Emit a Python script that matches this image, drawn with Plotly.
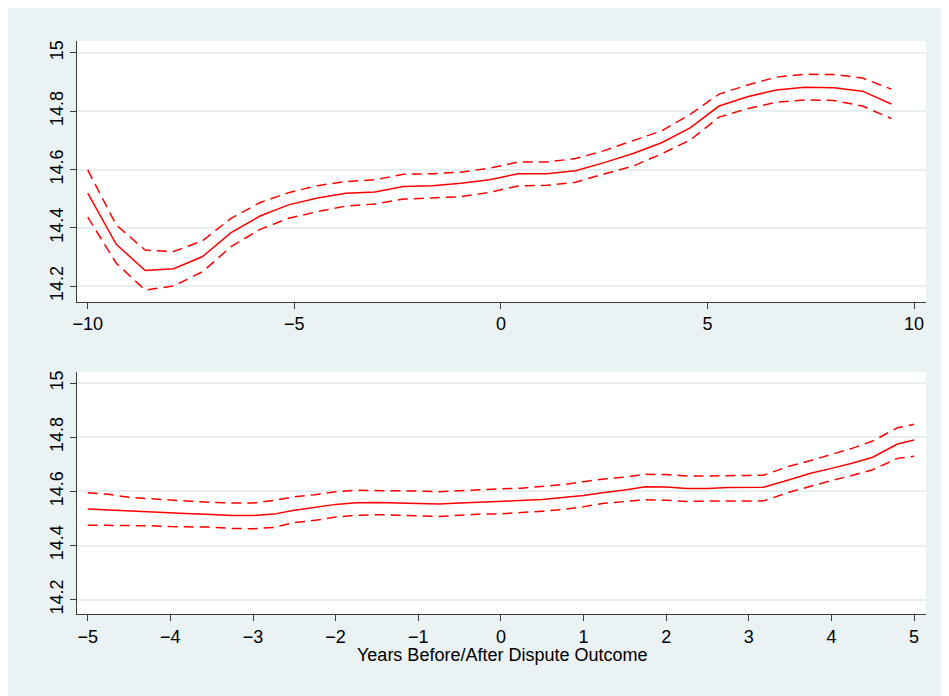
import plotly.graph_objects as go
from plotly.subplots import make_subplots

# ---- Top panel data (years -10 .. 10) ----
top_x = [-10.0, -9.31, -8.61, -7.92, -7.22, -6.53, -5.83, -5.14, -4.44, -3.75,
         -3.05, -2.36, -1.66, -0.97, -0.28, 0.42, 1.11, 1.81, 2.50, 3.20,
         3.89, 4.59, 5.28, 5.97, 6.67, 7.36, 8.06, 8.75, 9.45]
top_fit = [14.519, 14.344, 14.254, 14.260, 14.302, 14.384, 14.441, 14.479, 14.503, 14.519,
           14.523, 14.542, 14.545, 14.553, 14.565, 14.586, 14.586, 14.596, 14.624, 14.655,
           14.692, 14.744, 14.818, 14.850, 14.873, 14.882, 14.881, 14.869, 14.825]
top_hi = [14.599, 14.410, 14.324, 14.319, 14.356, 14.433, 14.487, 14.521, 14.545, 14.559,
          14.565, 14.584, 14.586, 14.591, 14.605, 14.626, 14.626, 14.638, 14.665, 14.698,
          14.733, 14.790, 14.859, 14.890, 14.917, 14.927, 14.926, 14.914, 14.876]
top_lo = [14.437, 14.279, 14.187, 14.201, 14.250, 14.336, 14.395, 14.433, 14.456, 14.475,
          14.482, 14.499, 14.503, 14.507, 14.522, 14.544, 14.546, 14.557, 14.585, 14.612,
          14.654, 14.702, 14.780, 14.809, 14.831, 14.839, 14.837, 14.818, 14.775]

# ---- Bottom panel data (years -5 .. 5) ----
bot_x = [-5.0, -4.75, -4.5, -4.25, -4.0, -3.75, -3.5, -3.25, -3.0, -2.75,
         -2.5, -2.25, -2.0, -1.75, -1.5, -1.25, -1.0, -0.75, -0.5, -0.25,
         0.0, 0.25, 0.5, 0.75, 1.0, 1.25, 1.5, 1.75, 2.0, 2.25,
         2.5, 2.75, 3.0, 3.18, 3.5, 3.75, 4.0, 4.25, 4.5, 4.8, 5.0]
bot_fit = [14.535, 14.531, 14.527, 14.523, 14.520, 14.517, 14.515, 14.511, 14.511, 14.516,
           14.530, 14.540, 14.552, 14.558, 14.559, 14.557, 14.556, 14.553, 14.557, 14.560,
           14.563, 14.565, 14.570, 14.577, 14.585, 14.596, 14.605, 14.617, 14.616, 14.611,
           14.611, 14.614, 14.615, 14.615, 14.644, 14.667, 14.685, 14.704, 14.726, 14.775, 14.790]
bot_hi = [14.595, 14.589, 14.578, 14.572, 14.568, 14.564, 14.559, 14.557, 14.557, 14.567,
          14.580, 14.588, 14.599, 14.604, 14.604, 14.602, 14.601, 14.599, 14.602, 14.607,
          14.610, 14.612, 14.619, 14.625, 14.636, 14.646, 14.653, 14.663, 14.662, 14.657,
          14.657, 14.657, 14.659, 14.660, 14.694, 14.714, 14.736, 14.759, 14.786, 14.835, 14.848]
bot_lo = [14.475, 14.475, 14.474, 14.473, 14.470, 14.469, 14.468, 14.463, 14.462, 14.467,
          14.485, 14.493, 14.505, 14.512, 14.514, 14.512, 14.510, 14.507, 14.512, 14.516,
          14.517, 14.521, 14.527, 14.533, 14.543, 14.556, 14.563, 14.569, 14.567, 14.563,
          14.564, 14.565, 14.565, 14.565, 14.598, 14.620, 14.640, 14.659, 14.680, 14.722, 14.730]

y_ticks = [14.2, 14.4, 14.6, 14.8, 15.0]
y_labels = ["14.2", "14.4", "14.6", "14.8", "15"]
top_xticks = [-10, -5, 0, 5, 10]
bot_xticks = [-5, -4, -3, -2, -1, 0, 1, 2, 3, 4, 5]
x_title = "Years Before/After Dispute Outcome"

BG = "#EAF2F3"
RED = "#FF0000"
AX = "#3c3c3c"
GRID = "#E6EEF0"
FONT = "Liberation Sans, Arial, sans-serif"
FS = 18

fig = make_subplots(rows=2, cols=1, shared_xaxes=False, vertical_spacing=0.05)

for row, xs, fit, hi, lo in [(1, top_x, top_fit, top_hi, top_lo),
                             (2, bot_x, bot_fit, bot_hi, bot_lo)]:
    fig.add_trace(go.Scatter(x=xs, y=hi, mode="lines",
                             line=dict(color=RED, width=1.5, dash="10px,6px"),
                             showlegend=False, hoverinfo="skip"), row=row, col=1)
    fig.add_trace(go.Scatter(x=xs, y=fit, mode="lines",
                             line=dict(color=RED, width=1.5),
                             showlegend=False), row=row, col=1)
    fig.add_trace(go.Scatter(x=xs, y=lo, mode="lines",
                             line=dict(color=RED, width=1.5, dash="10px,6px"),
                             showlegend=False, hoverinfo="skip"), row=row, col=1)

common_y = dict(range=[14.147, 15.041], tickvals=y_ticks, ticktext=y_labels,
                tickangle=-90, showline=True, linecolor=AX, linewidth=1,
                ticks="outside", ticklen=6, tickcolor=AX, tickwidth=1,
                showgrid=True, gridcolor=GRID, gridwidth=1.5, zeroline=False,
                tickfont=dict(size=FS, color="black", family=FONT))
common_x = dict(showline=True, linecolor=AX, linewidth=1,
                ticks="outside", ticklen=6, tickcolor=AX, tickwidth=1,
                showgrid=False, zeroline=False,
                tickfont=dict(size=FS, color="black", family=FONT))

fig.update_layout(
    width=941, height=688,
    margin=dict(l=69, r=23, t=33, b=82),
    paper_bgcolor=BG, plot_bgcolor="white",
    font=dict(family=FONT, size=FS, color="black"),
    showlegend=False,
    xaxis=dict(domain=[0, 1], range=[-10.26, 10.29], tickvals=top_xticks, anchor="y", **common_x),
    yaxis=dict(domain=[0.545, 1.0], anchor="x", **common_y),
    xaxis2=dict(domain=[0, 1], range=[-5.13, 5.145], tickvals=bot_xticks, anchor="y2",
                **common_x),
    yaxis2=dict(domain=[0.0, 0.4223], anchor="x2", **common_y),
    annotations=[dict(text=x_title, xref="paper", yref="paper", x=0.5, y=-0.0715,
                      xanchor="center", yanchor="middle", showarrow=False,
                      font=dict(size=FS, color="black", family=FONT))],
)

fig.write_html("out.html")
